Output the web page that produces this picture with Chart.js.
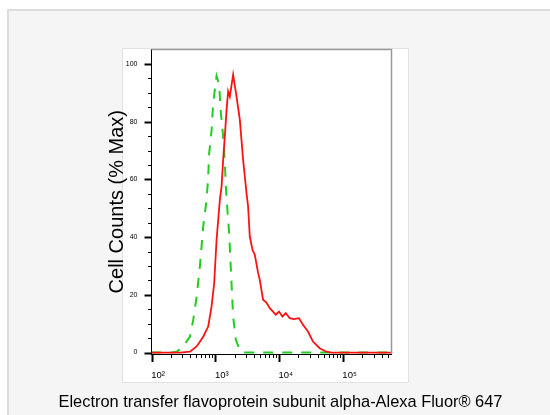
<!DOCTYPE html>
<html>
<head>
<meta charset="utf-8">
<script src="https://cdn.jsdelivr.net/npm/chart.js@4.4.0/dist/chart.umd.min.js"></script>
<style>
  html, body { margin: 0; padding: 0; background: #fff; }
  #wrap { width: 550px; height: 415px; }
</style>
</head>
<body>
<div id="wrap"><canvas id="histChart" width="550" height="415"></canvas></div>
<script>
// fluorescence (log) vs % max
const redX = [100, 279, 400, 509, 645, 772, 872, 958, 1044, 1176, 1250, 1324, 1407, 1496, 1585, 1685, 1897, 2145, 2415, 2719, 3073, 3255, 3460, 3813, 4142, 4665, 4958, 5584, 6310, 7105, 8001, 8818, 9928, 11220, 12640, 14590, 16850, 20390, 23540, 28180, 33750, 42940, 54650, 65400, 572500];
const redY = [0, 0, 0.3, 2.1, 5.5, 9, 16, 24, 39, 53, 57.5, 66.8, 75, 84, 90.5, 88.7, 96.3, 88.7, 80.7, 66.8, 55.2, 50.6, 40.2, 35.6, 33.9, 27.6, 25.2, 18.3, 17.3, 15.4, 14.2, 13.1, 14.2, 12.5, 13.7, 11.9, 11.6, 11.9, 9.6, 7.3, 3.8, 1.5, 0.3, 0, 0];

const greenX = [100, 200, 248, 314, 400, 450, 509, 573, 645, 729, 772, 800, 872, 924, 1044, 1147, 1219, 1324, 1407, 1459, 1529, 1643, 1791, 1897, 2091, 2476, 2800, 572500];
const greenY = [0, 0, 0.3, 2.1, 5.5, 11.3, 19.4, 30, 43.7, 53, 61, 69, 77, 86.4, 95.8, 92.8, 83, 74.9, 65.6, 57.5, 50.6, 41.4, 24, 12.5, 4.4, 0.3, 0, 0];

const xTickValues = [100, 200, 300, 400, 500, 600, 700, 800, 900,
  1000, 2000, 3000, 4000, 5000, 6000, 7000, 8000, 9000,
  10000, 20000, 30000, 40000, 50000, 60000, 70000, 80000, 90000,
  100000, 200000, 300000, 400000, 500000];
const xMajorValues = [100, 1000, 10000, 100000];
const xTickLabels = ['10\u00b2', '10\u00b3', '10\u2074', '10\u2075'];

const yTickValues = [0, 5, 10, 15, 20, 25, 30, 35, 40, 45, 50, 55, 60, 65, 70, 75, 80, 85, 90, 95, 100];
const yLabelValues = [0, 20, 40, 60, 80, 100];

const xTitle = 'Electron transfer flavoprotein subunit alpha-Alexa Fluor\u00ae 647';
const yTitle = 'Cell Counts (% Max)';

const FONT = '"Liberation Sans", Arial, sans-serif';

const panelBackground = {
  id: 'panelBackground',
  beforeDraw(chart) {
    const ctx = chart.ctx;
    ctx.save();
    ctx.fillStyle = '#ffffff';
    ctx.fillRect(0, 0, chart.width, chart.height);
    ctx.fillStyle = '#f5f5f5';
    ctx.fillRect(7, 9, chart.width - 7, chart.height - 9);
    ctx.strokeStyle = '#dcdcdc';
    ctx.lineWidth = 2;
    ctx.beginPath();
    ctx.moveTo(8, chart.height);
    ctx.lineTo(8, 10);
    ctx.lineTo(chart.width, 10);
    ctx.stroke();
    ctx.fillStyle = '#ffffff';
    ctx.fillRect(122, 48, 287, 335);
    ctx.strokeStyle = '#e2e2e2';
    ctx.lineWidth = 1;
    ctx.strokeRect(122.5, 48.5, 286, 334);
    ctx.restore();
  }
};

const frameAndTicks = {
  id: 'frameAndTicks',
  afterDraw(chart) {
    const { ctx, chartArea, scales } = chart;
    ctx.save();
    // top and right frame
    ctx.strokeStyle = '#999';
    ctx.lineWidth = 1.5;
    ctx.beginPath();
    ctx.moveTo(chartArea.left, chartArea.top);
    ctx.lineTo(chartArea.right, chartArea.top);
    ctx.lineTo(chartArea.right, chartArea.bottom);
    ctx.stroke();

    ctx.strokeStyle = '#000';
    xTickValues.forEach(v => {
      const major = xMajorValues.includes(v);
      const px = Math.round(scales.x.getPixelForValue(v)) + 0.5;
      ctx.lineWidth = major ? 2 : 1;
      ctx.beginPath();
      ctx.moveTo(px, chartArea.bottom);
      ctx.lineTo(px, chartArea.bottom + (major ? 8 : 4));
      ctx.stroke();
    });
    yTickValues.forEach(v => {
      const major = yLabelValues.includes(v);
      const py = Math.round(scales.y.getPixelForValue(v)) + 0.5;
      ctx.lineWidth = major ? 2 : 1;
      ctx.beginPath();
      ctx.moveTo(chartArea.left, py);
      ctx.lineTo(chartArea.left - (major ? 7 : 3.5), py);
      ctx.stroke();
    });

    ctx.font = '16.4px ' + FONT;
    ctx.fillStyle = '#000';
    ctx.textAlign = 'center';
    ctx.textBaseline = 'alphabetic';
    ctx.fillText(xTitle, 280.5, 406.5);
    ctx.restore();
  }
};

new Chart(document.getElementById('histChart'), {
  type: 'line',
  data: {
    datasets: [
      {
        label: 'Sample',
        data: redX.map((x, i) => ({ x, y: redY[i] })),
        borderColor: '#ff1111',
        borderWidth: 1.8,
        pointRadius: 0,
        tension: 0,
        fill: false
      },
      {
        label: 'Isotype control',
        data: greenX.map((x, i) => ({ x, y: greenY[i] })),
        borderColor: '#22cc22',
        borderWidth: 2,
        borderDash: [10, 9],
        pointRadius: 0,
        tension: 0,
        fill: false
      }
    ]
  },
  options: {
    responsive: false,
    animation: false,
    devicePixelRatio: 1,
    layout: { padding: { top: 49.5, left: 100, right: 158.5, bottom: 0 } },
    plugins: {
      legend: { display: false },
      tooltip: { enabled: false }
    },
    scales: {
      x: {
        type: 'logarithmic',
        min: 100,
        max: 572500,
        afterFit(scale) { scale.height = 61; },
        afterBuildTicks(scale) { scale.ticks = xTickValues.map(v => ({ value: v })); },
        grid: { display: false },
        border: { display: true, color: '#000', width: 1 },
        ticks: {
          autoSkip: false,
          maxRotation: 0,
          padding: 8,
          labelOffset: 6.5,
          color: '#000',
          font: { size: 9.5, family: FONT },
          callback: (v) => {
            const i = xMajorValues.indexOf(v);
            return i >= 0 ? xTickLabels[i] : '';
          }
        }
      },
      y: {
        min: -0.5,
        max: 105,
        afterFit(scale) { scale.width = 51.5; },
        afterBuildTicks(scale) { scale.ticks = yTickValues.map(v => ({ value: v })); },
        grid: { display: false },
        border: { display: true, color: '#000', width: 1 },
        ticks: {
          autoSkip: false,
          padding: 6,
          color: '#000',
          font: { size: 7, family: FONT },
          callback: (v) => yLabelValues.includes(v) ? String(v) : ''
        },
        title: {
          display: true,
          text: yTitle,
          color: '#000',
          font: { size: 20, family: FONT },
          padding: { top: 5, bottom: 0 }
        }
      }
    }
  },
  plugins: [panelBackground, frameAndTicks]
});
</script>
</body>
</html>
